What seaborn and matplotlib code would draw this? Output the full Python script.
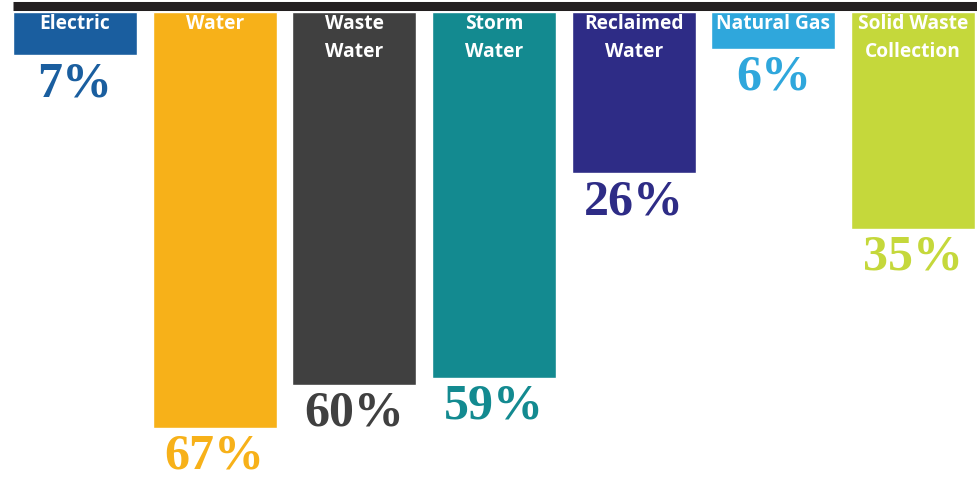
import matplotlib
matplotlib.use("Agg")
import matplotlib.pyplot as plt
import seaborn as sns
import pandas as pd

# share of customers per utility service
services = ["Electric", "Water", "Waste\nWater", "Storm\nWater",
            "Reclaimed\nWater", "Natural Gas", "Solid Waste\nCollection"]
shares = [7, 67, 60, 59, 26, 6, 35]
colors = ["#1a5e9f", "#f7b119", "#404040", "#138a90",
          "#2e2c86", "#2fa7dc", "#c5d83b"]

df = pd.DataFrame({"service": services, "share": shares})

sns.set_style("white")
fig = plt.figure(figsize=(9.77, 4.79), dpi=100)
ax = fig.add_axes([13 / 977, 0, 962 / 977, 467 / 479])

sns.barplot(data=df, x="service", y="share", hue="service",
            palette=colors, dodge=False, legend=False, width=0.887,
            saturation=1, ax=ax)

ax.set_xlim(-0.4435, 6.4435)
ax.set_ylim(75.2, 0)
ax.axis("off")

# black rule along the top
ax.plot([-0.4435, 6.6], [0, 0], color="#231f20", lw=6.5, clip_on=False,
        solid_capstyle="butt")
ax.lines[-1].set_transform(ax.transData + matplotlib.transforms.ScaledTranslation(0, 4.5 / 72, fig.dpi_scale_trans))

for i, (name, val, c) in enumerate(zip(services, shares, colors)):
    ax.text(i, 0.35, name, ha="center", va="top", color="white",
            fontsize=13.8, fontweight="bold", family="Open Sans",
            linespacing=1.5)
    ax.annotate(f"{val}%", (i, val), xytext=(0, -4), textcoords="offset points",
                ha="center", va="top", color=c, fontsize=36,
                fontweight="bold", family="Liberation Serif",
                annotation_clip=False)

fig.savefig("out.png", dpi=100)
